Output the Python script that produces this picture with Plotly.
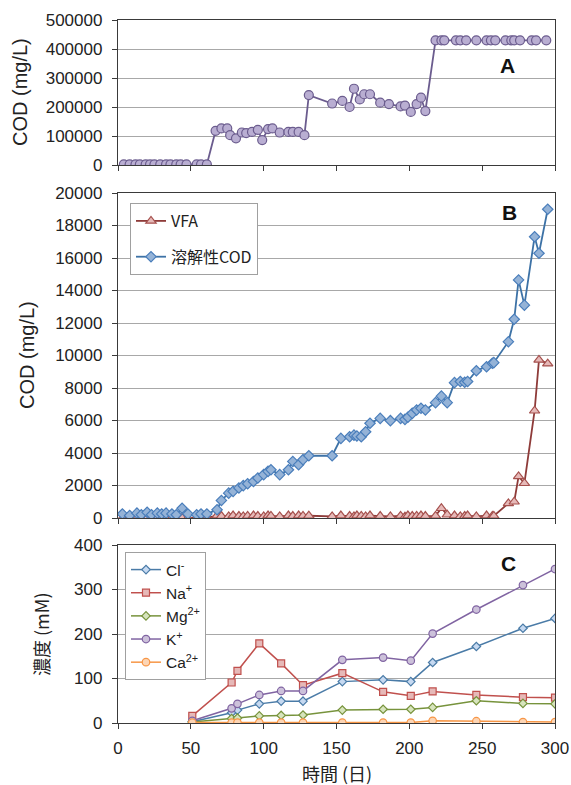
import plotly.graph_objects as go

# ---------------- data ----------------
# Panel A: COD of feed (mg/L)
a_days = [4, 8, 12, 15, 19, 22, 25, 29, 33, 36, 40, 43, 47, 54, 57, 61,
          67, 71, 75, 77, 81, 85, 88, 92, 96, 99, 103, 106, 111, 117, 120, 124, 128, 131,
          147, 154, 159, 162, 166, 169, 173, 180, 186, 194, 197, 201, 205, 208, 211,
          218, 222, 224, 232, 235, 239, 246, 253, 256, 259, 266, 270, 272, 276, 284, 287, 294]
a_cod = [2000, 2000, 2000, 2000, 2000, 2000, 2000, 2000, 2000, 2000, 2000, 2000, 2000, 2000, 2000, 2000,
         118000, 126000, 126000, 103000, 92000, 112000, 110000, 114000, 121000, 86000, 124000, 126000,
         112000, 114000, 114000, 114000, 103000, 241000,
         212000, 221000, 200000, 263000, 226000, 244000, 244000, 215000, 210000, 202000, 205000,
         183000, 210000, 232000, 186000,
         430000, 430000, 430000, 430000, 430000, 430000, 430000, 430000, 430000, 430000, 430000,
         430000, 430000, 430000, 430000, 430000, 430000]

# Panel B: VFA and soluble COD (mg/L)
b_days = [3, 8, 13, 16, 20, 23, 27, 30, 33, 37, 40, 44, 48, 54, 57, 61,
          68, 71, 76, 79, 83, 86, 89, 93, 96, 100, 103, 105, 111, 117, 120, 124, 127, 131,
          147, 153, 159, 162, 164, 167, 170, 173, 180, 187, 194, 197, 199, 202, 205, 208, 211,
          218, 222, 226, 231, 235, 238, 240, 246, 253, 257, 258,
          268, 272, 275, 279, 286, 289, 295]
b_scod = [250, 150, 300, 200, 350, 200, 300, 250, 300, 250, 200, 600, 250, 200, 250, 250,
          510, 1080, 1530, 1640, 1850, 1990, 2110, 2250, 2460, 2670, 2870, 2970, 2670, 2970, 3480, 3280, 3590, 3830,
          3830, 4900, 5000, 5100, 5050, 5000, 5310, 5830, 6130, 5990, 6130, 6070, 6200, 6440, 6650, 6750, 6650,
          7100, 7500, 7100, 8330, 8400, 8350, 8400, 9060, 9310, 9520, 9560,
          10850, 12230, 14650, 13100, 17310, 16290, 19000]
b_vfa = [0, 0, 0, 0, 0, 0, 0, 0, 0, 0, 0, 0, 0, 0, 0, 0,
         150, 120, 100, 150, 120, 100, 130, 150, 120, 100, 150, 130, 100, 150, 120, 150, 130, 140,
         100, 150, 120, 100, 150, 130, 100, 150, 120, 100, 130, 80, 150, 120, 130, 150, 120,
         130, 600, 200, 150, 100, 120, 150, 100, 150, 120, 130,
         900, 1000, 2560, 2140, 6600, 9730, 9500]

# Panel C: ion concentrations (mM)
c_days = [51, 78, 82, 97, 112, 127, 154, 182, 201, 216, 246, 278, 300]
c_cl = [3, 23, 29, 43, 49, 49, 93, 97, 93, 136, 172, 213, 235]
c_na = [16, 91, 117, 179, 134, 85, 112, 70, 61, 71, 63, 58, 57]
c_mg = [2, 10, 11, 16, 17, 18, 29, 31, 31, 35, 50, 44, 43]
c_k = [5, 33, 43, 63, 72, 72, 142, 147, 140, 201, 255, 310, 346]
c_ca = [1, 1, 1, 1, 1, 1, 1, 1, 1, 5, 4, 2, 2]

x_ticks = [0, 50, 100, 150, 200, 250, 300]
a_ticks = [0, 100000, 200000, 300000, 400000, 500000]
b_ticks = [0, 2000, 4000, 6000, 8000, 10000, 12000, 14000, 16000, 18000, 20000]
c_ticks = [0, 100, 200, 300, 400]

# ---------------- layout helpers ----------------
W, H = 571, 785
FONT = "Liberation Sans, Arial, Noto Sans CJK JP, sans-serif"
JFONT = "Noto Sans CJK JP, Liberation Sans, sans-serif"


def ydom(top, bottom):
    return [1 - bottom / H, 1 - top / H]


xdom = [118 / W, 555 / W]

fig = go.Figure()

# Panel A
fig.add_trace(go.Scatter(
    x=a_days, y=a_cod, mode="lines+markers", xaxis="x", yaxis="y", showlegend=False,
    line=dict(color="#6b5c8e", width=1.8),
    marker=dict(symbol="circle", size=9, color="#b9aed2", line=dict(color="#6b5c8e", width=1.2))))

# Panel B
fig.add_trace(go.Scatter(
    x=b_days, y=b_vfa, name="VFA", mode="lines+markers", xaxis="x2", yaxis="y2",
    legend="legend", legendgroup="vfa",
    line=dict(color="#8e3b39", width=1.8),
    marker=dict(symbol="triangle-up", size=9, color="#e6b9b8", line=dict(color="#a5504d", width=1.2))))
fig.add_trace(go.Scatter(
    x=b_days, y=b_scod, name="溶解性COD", mode="lines+markers", xaxis="x2", yaxis="y2",
    legend="legend", legendgroup="scod",
    line=dict(color="#3d72a6", width=1.8),
    marker=dict(symbol="diamond", size=8, color="#95b3d7", line=dict(color="#4a7ebb", width=1.2))))

# Panel C
c_series = [
    ("Cl<sup>-</sup>", c_cl, "diamond", 6.5, "#c6d9f1", "#4a7ba7"),
    ("Na<sup>+</sup>", c_na, "square", 7, "#e6b9b8", "#c0504d"),
    ("Mg<sup>2+</sup>", c_mg, "diamond", 6.5, "#d7e4bd", "#77933c"),
    ("K<sup>+</sup>", c_k, "circle", 7.5, "#ccc1da", "#8064a2"),
    ("Ca<sup>2+</sup>", c_ca, "circle", 7.5, "#fcd5b5", "#f79646"),
]
for name, vals, sym, sz, fill, col in c_series:
    fig.add_trace(go.Scatter(
        x=c_days, y=vals, name=name, mode="lines+markers", xaxis="x3", yaxis="y3",
        legend="legend2",
        line=dict(color=col, width=1.5),
        marker=dict(symbol=sym, size=sz, color=fill, line=dict(color=col, width=1.2))))

axis_common = dict(
    showline=True, linecolor="#3a3a3a", linewidth=1.3, mirror=True,
    ticks="outside", ticklen=5, tickcolor="#3a3a3a", tickwidth=1.2,
    tickfont=dict(family=FONT, size=17, color="#222"),
    zeroline=False, automargin=False,
)
xcommon = dict(axis_common, range=[0, 300], tickvals=x_ticks, showgrid=False, domain=xdom)
ycommon = dict(axis_common, showgrid=True, gridcolor="#a8a8a8", gridwidth=1.3,
               ticklabelstandoff=6, tickformat="d")

fig.update_layout(
    width=W, height=H,
    margin=dict(l=0, r=0, t=0, b=0),
    paper_bgcolor="white", plot_bgcolor="white",
    font=dict(family=FONT, color="#222"),
    xaxis=dict(xcommon, anchor="y", showticklabels=False),
    yaxis=dict(ycommon, domain=ydom(20, 165), range=[0, 500000], tickvals=a_ticks, anchor="x"),
    xaxis2=dict(xcommon, anchor="y2", showticklabels=False),
    yaxis2=dict(ycommon, domain=ydom(193, 518), range=[0, 20000], tickvals=b_ticks, anchor="x2"),
    xaxis3=dict(xcommon, anchor="y3", showticklabels=True, ticklabelstandoff=4),
    yaxis3=dict(ycommon, domain=ydom(545, 723), range=[0, 400], tickvals=c_ticks, anchor="x3"),
    legend=dict(
        x=130 / W, y=1 - 203 / H, xanchor="left", yanchor="top",
        bgcolor="white", bordercolor="#a0a0a0", borderwidth=1,
        font=dict(family=JFONT, size=16, color="#222"),
        traceorder="grouped", tracegroupgap=12, itemwidth=30),
    legend2=dict(
        x=125 / W, y=1 - 552 / H, xanchor="left", yanchor="top",
        bgcolor="white", bordercolor="#a0a0a0", borderwidth=1,
        font=dict(family=FONT, size=15.5, color="#222"),
        tracegroupgap=0, itemwidth=30),
)

ann = []
# axis titles
ann.append(dict(text="COD (mg/L)", x=20 / W, y=1 - 92 / H, textangle=-90,
                font=dict(family=FONT, size=20, color="#222")))
ann.append(dict(text="COD (mg/L)", x=27 / W, y=1 - 355 / H, textangle=-90,
                font=dict(family=FONT, size=20, color="#222")))
ann.append(dict(text="濃度 (mM)", x=41 / W, y=1 - 634 / H, textangle=-90,
                font=dict(family=JFONT, size=18, color="#222")))
ann.append(dict(text="時間 (日)", x=337 / W, y=1 - 773 / H,
                font=dict(family=JFONT, size=18, color="#222")))
# panel letters
ann.append(dict(text="<b>A</b>", x=507 / W, y=1 - 66 / H, font=dict(family=FONT, size=21, color="#111")))
ann.append(dict(text="<b>B</b>", x=509 / W, y=1 - 213 / H, font=dict(family=FONT, size=21, color="#111")))
ann.append(dict(text="<b>C</b>", x=508 / W, y=1 - 563 / H, font=dict(family=FONT, size=21, color="#111")))
for a in ann:
    a.update(xref="paper", yref="paper", showarrow=False, xanchor="center", yanchor="middle")
fig.update_layout(annotations=ann)

fig.write_html("out.html", config={"displayModeBar": False},
               post_script="document.body.style.margin='0';document.body.style.overflow='hidden';")
